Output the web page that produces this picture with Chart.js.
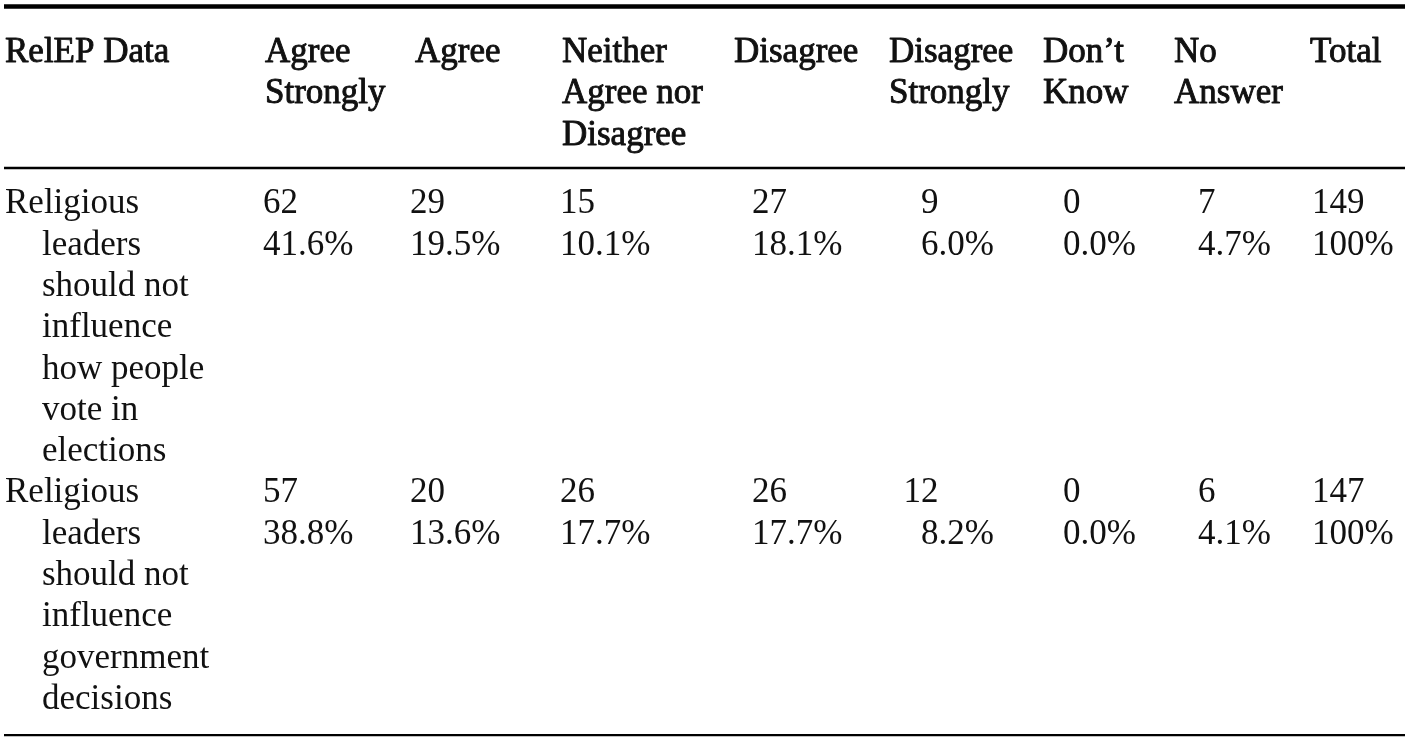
<!DOCTYPE html>
<html>
<head>
<meta charset="utf-8">
<title>RelEP Data</title>
<script src="https://cdn.jsdelivr.net/npm/chart.js@4.4.1/dist/chart.umd.min.js"></script>
<style>
  html, body { margin: 0; padding: 0; background: #fff; }
  #wrap { width: 1406px; height: 741px; position: relative; }
</style>
</head>
<body>
<div id="wrap"><canvas id="table"></canvas></div>
<script>
// column headings, one array of lines per column
const headings = [
  ['RelEP Data'],
  ['Agree', 'Strongly'],
  ['Agree'],
  ['Neither', 'Agree nor', 'Disagree'],
  ['Disagree'],
  ['Disagree', 'Strongly'],
  ['Don’t', 'Know'],
  ['No', 'Answer'],
  ['Total'],
];

// statements (row labels, wrapped as in the source)
const statementA = ['Religious', 'leaders', 'should not', 'influence', 'how people', 'vote in', 'elections'];
const statementB = ['Religious', 'leaders', 'should not', 'influence', 'government', 'decisions'];

// counts and shares per answer column
const countsA = [62, 29, 15, 27, 9, 0, 7, 149];
const percentsA = ['41.6%', '19.5%', '10.1%', '18.1%', '6.0%', '0.0%', '4.7%', '100%'];
const countsB = [57, 20, 26, 26, 12, 0, 6, 147];
const percentsB = ['38.8%', '13.6%', '17.7%', '17.7%', '8.2%', '0.0%', '4.1%', '100%'];

// layout (x in scale units, y in text lines)
const headX = [5, 265, 415, 562, 734, 889, 1043, 1174, 1310];
const cellX = [263, 410, 560, 752, 921, 1063, 1198, 1312];
const indent = 37;
const rowA = 3.66;
const rowB = rowA + statementA.length;
const ruleTop = -1.05;
const ruleHead = 2.86;
const ruleBottom = rowB + statementB.length - 0.07;
const textDrop = 3;

const FONT = '35px "Liberation Serif", "DejaVu Serif", serif';
const INK = '#111';

function rule(y, w) {
  return {
    type: 'line',
    data: [{ x: 4, y: y }, { x: 1405, y: y }],
    borderColor: '#000',
    borderWidth: w,
    pointRadius: 0,
    clip: false,
  };
}

function cells(counts, y) {
  return {
    type: 'scatter',
    data: counts.map((c, i) => ({ x: cellX[i], y: y })),
    pointRadius: 0,
    clip: false,
  };
}

const tableText = {
  id: 'tableText',
  afterDatasetsDraw(chart) {
    const ctx = chart.ctx;
    const xs = chart.scales.x;
    const ys = chart.scales.y;
    ctx.save();
    ctx.font = FONT;
    ctx.fillStyle = INK;
    ctx.strokeStyle = INK;
    ctx.lineJoin = 'round';
    ctx.textAlign = 'left';
    ctx.textBaseline = 'middle';

    // headings are set a little heavier
    ctx.lineWidth = 0.9;
    headings.forEach((lines, c) => {
      lines.forEach((t, k) => {
        const x = xs.getPixelForValue(headX[c]);
        const y = ys.getPixelForValue(k) + textDrop;
        ctx.fillText(t, x, y);
        ctx.strokeText(t, x, y);
      });
    });

    [[statementA, rowA], [statementB, rowB]].forEach(([lines, y0]) => {
      lines.forEach((t, k) => {
        const x = headX[0] + (k > 0 ? indent : 0);
        ctx.fillText(t, xs.getPixelForValue(x), ys.getPixelForValue(y0 + k) + textDrop);
      });
    });

    // line the units digit of the count up with that of the share
    const digit = ctx.measureText('0').width;
    const rows = [[countsA, percentsA], [countsB, percentsB]];
    rows.forEach(([counts, pcts], r) => {
      const meta = chart.getDatasetMeta(3 + r);
      const line = ys.getPixelForValue(1) - ys.getPixelForValue(0);
      meta.data.forEach((pt, i) => {
        const intDigits = pcts[i].split(/[.%]/)[0].length;
        const shift = (intDigits - String(counts[i]).length) * digit;
        ctx.fillText(String(counts[i]), pt.x + shift, pt.y + textDrop);
        ctx.fillText(pcts[i], pt.x, pt.y + line + textDrop);
      });
    });
    ctx.restore();
  },
};

new Chart(document.getElementById('table'), {
  data: {
    datasets: [
      rule(ruleTop, 4.5),
      rule(ruleHead, 2.5),
      rule(ruleBottom, 2.2),
      cells(countsA, rowA),
      cells(countsB, rowB),
    ],
  },
  options: {
    responsive: true,
    maintainAspectRatio: false,
    animation: false,
    layout: { padding: 0 },
    plugins: {
      legend: { display: false },
      tooltip: { enabled: false },
    },
    scales: {
      x: { type: 'linear', display: false, min: 0, max: 1406 },
      y: { type: 'linear', display: false, reverse: true, min: -1.21, max: 16.73 },
    },
  },
  plugins: [tableText],
});
</script>
</body>
</html>
